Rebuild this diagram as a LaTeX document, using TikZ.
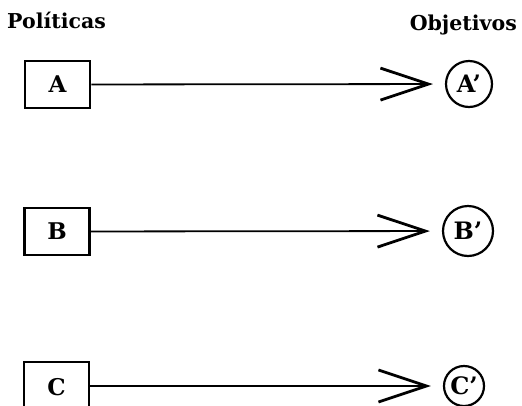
\documentclass[tikz,border=0pt]{standalone}
\usepackage{fontspec}
\setmainfont{DejaVu Serif}
\usetikzlibrary{arrows.meta}
\begin{document}
\begin{tikzpicture}[x=1pt,y=-1pt,
  lbl/.style={font=\fontsize{20.5}{24}\selectfont\bfseries, inner sep=0pt},
  polbox/.style={draw, line width=2.6pt, minimum width=65pt, minimum height=47pt, inner sep=0pt, font=\fontsize{23}{26}\selectfont\bfseries},
  objcirc/.style={draw, circle, line width=2.2pt, inner sep=0pt, font=\fontsize{24}{26}\selectfont\bfseries},
  link/.style={line width=1.8pt, -{Straight Barb[length=48pt,width=32pt,line width=2.8pt]}, shorten >=12pt}
]
\useasboundingbox (0,0) rectangle (522,405);
\node[lbl, anchor=base west] (pol) at (7,28) {Políticas};
\node[lbl, anchor=base east] (obj) at (517,30) {Objetivos};

\node[polbox] (A) at (57.5,84.5) {A};
\node[polbox] (B) at (57,231.5) {B};
\node[polbox, minimum height=50pt] (C) at (56.5,387) {C};

\node[objcirc, minimum size=46pt] (A2) at (469,84) {A’};
\node[objcirc, minimum size=50pt] (B2) at (468,231) {B’};
\node[objcirc, minimum size=40pt] (C2) at (464,386) {C’};

\draw[link] (A) -- (A2);
\draw[link] (B) -- (B2);
\draw[link] (C.east |- C2) -- (C2);
\end{tikzpicture}
\end{document}
